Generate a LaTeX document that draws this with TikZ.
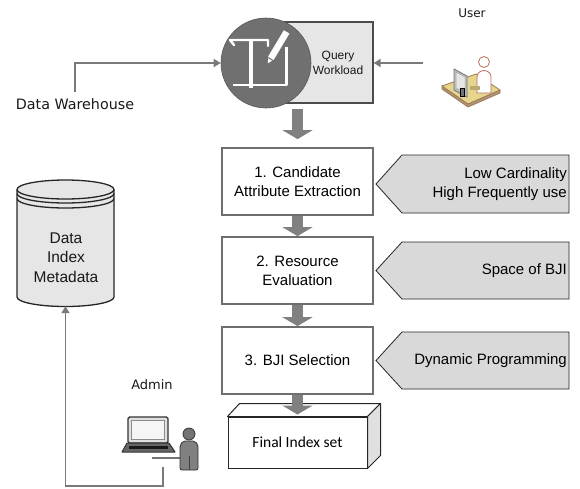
\documentclass[tikz,border=0pt]{standalone}
\usepackage{fontspec}
\setmainfont{Liberation Sans}
\newfontfamily\dvfont{DejaVu Sans}
\newfontfamily\calfont{Carlito}
\usetikzlibrary{arrows.meta,calc}
\definecolor{arrowgray}{HTML}{808080}
\definecolor{linegray}{HTML}{7A7A7A}
\definecolor{boxgray}{HTML}{6E6E6E}
\definecolor{hintgray}{HTML}{D9D9D9}
\definecolor{panelgray}{HTML}{E6E6E6}
\definecolor{discgray}{HTML}{707070}
\definecolor{deskyellow}{HTML}{E6D58C}
\definecolor{deskedge}{HTML}{9C7A55}
\definecolor{skinline}{HTML}{B9705E}
\begin{document}
\begin{tikzpicture}[x=1pt,y=-1pt,
  conn/.style={draw=linegray, line width=1.7pt, -{Triangle[width=8pt,length=7pt]}},
  blockarrow/.style={draw=arrowgray, line width=11pt, -{Triangle[width=30pt,length=9pt]}},
  stepbox/.style={draw=boxgray, line width=1.8pt, fill=white, minimum width=151pt,
    minimum height=67pt, align=center, inner sep=0pt, font=\fontsize{15}{19}\selectfont},
  hint/.style={fill=hintgray, draw=black!85, line width=0.8pt},
  hinttext/.style={anchor=east, align=right, inner sep=0pt, font=\fontsize{15}{19}\selectfont},
  label/.style={inner sep=0pt, text=black!90},
  iconline/.style={white, line width=2.4pt}]
\useasboundingbox (0,0) rectangle (580,488);

% ---- query workload panel with its disc icon ----
\node[draw=black!70, line width=1.2pt, fill=panelgray, minimum width=107pt,
  minimum height=81pt, inner sep=0pt] (qbox) at (319.5,62.5) {};
\node[circle, draw=black!65, line width=0.6pt, fill=discgray, minimum size=90pt,
  inner sep=0pt] (qcirc) at (266,63) {};
\node[label, align=center, font=\fontsize{12}{15}\selectfont] (qtext) at (338,62.5) {Query\\Workload};
% open book and pencil in the disc
\draw[iconline, line cap=round, line join=round]
  (234,45) -- (230,40) -- (268,40) -- (268,46);
\draw[white, line width=3.4pt] (251,40) -- (251,88);
\draw[iconline, line join=round] (233,85) -- (286.5,85) -- (286.5,47);
\filldraw[white] (268,63) -- (268.5,56.4) -- (283.9,30.6) -- (289.1,33.6) -- (273.7,59.4) -- cycle;
\draw[discgray, line width=1pt] (268.3,57.6) -- (273.2,60.6);

% ---- data warehouse source ----
\node[label, font=\dvfont\fontsize{14.3}{17}\selectfont] (dw) at (75,104) {Data Warehouse};
\draw[conn] ([yshift=6pt]dw.north) |- (qcirc.west);

% ---- user ----
\node[label, font=\dvfont\fontsize{12}{14}\selectfont] (user) at (472,13) {User};
\coordinate (userout) at (423,63);
\draw[conn] (userout) -- (qbox.east |- userout);
% user at a desk
\filldraw[fill=deskedge!80, draw=deskedge, line width=0.8pt] (442,86) -- (442,89) -- (468,107) -- (500,93) -- (500,90) -- (468,104) -- cycle;
\filldraw[fill=deskyellow, draw=deskedge, line width=0.8pt, line join=round] (442,86) -- (468,104) -- (500,90) -- (476,74) -- cycle;
\filldraw[fill=black!25, draw=black!55, line width=0.8pt] (454,69) -- (467,76) -- (467,97) -- (454,90) -- cycle;
\filldraw[fill=black!10, draw=black!35, line width=0.5pt] (456,72) -- (465,77) -- (465,93) -- (456,88) -- cycle;
\filldraw[fill=black!55] (460,88) rectangle (464,96);
\filldraw[fill=white, draw=skinline, line width=0.8pt] (477,93) -- (477,77) to[out=90,in=180] (484,70.5) to[out=0,in=90] (491,77) -- (491,93) -- cycle;
\filldraw[fill=white, draw=skinline, line width=0.8pt] (484,62) circle (5.5pt);
\filldraw[fill=deskyellow!80!black, draw=none] (470,86) rectangle (480,90);

% ---- processing steps ----
\node[stepbox] (box1) at (297.5,181.5) {1. Candidate\\Attribute Extraction};
\node[stepbox] (box2) at (297.5,270.5) {2. Resource\\Evaluation};
\node[stepbox] (box3) at (297.5,360.5) {3. BJI Selection};

\draw[blockarrow] ($(box1.north |- qbox.south)+(0,5)$) -- ($(box1.north)+(0,-8)$);
\draw[blockarrow] (box1.south) -- (box2.north);
\draw[blockarrow] (box2.south) -- (box3.north);

% ---- criteria tags ----
\filldraw[hint] (376,184) -- (402,155) -- (569,155) -- (569,213) -- (402,213) -- cycle;
\filldraw[hint] (376,270.5) -- (402,242) -- (569,242) -- (569,299) -- (402,299) -- cycle;
\filldraw[hint] (376,360.5) -- (402,332) -- (569,332) -- (569,389) -- (402,389) -- cycle;
\node[hinttext] (h1) at (567,184) {Low Cardinality\\High Frequently use};
\node[hinttext] (h2) at (567,271) {Space of BJI};
\node[hinttext] (h3) at (567,360.5) {Dynamic Programming};

% ---- final index set (3D block) ----
\node[draw=black!85, line width=1pt, fill=white, minimum width=139pt, minimum height=51pt,
  inner sep=0pt, font=\calfont\fontsize{15.5}{18}\selectfont] (final) at (297.5,442.5) {Final Index set};
\filldraw[fill=white, draw=black!85, line width=1pt, line join=round]
  (final.north west) -- ++(12,-13) -- ($(final.north east)+(13,-13)$) -- (final.north east) -- cycle;
\filldraw[fill=black!12, draw=black!85, line width=1pt, line join=round]
  (final.north east) -- ++(13,-13) -- ++(0,52) -- (final.south east) -- cycle;
\draw[blockarrow] (box3.south) -- ($(box3.south |- final.north)+(0,-2)$);

% ---- metadata store ----
\node[minimum width=97pt, minimum height=127pt, inner sep=0pt] (cyl) at (65.5,242.5) {};
\path[fill=panelgray] (17,189.5) -- (17,297) arc[start angle=180, end angle=360, x radius=48.5pt, y radius=9.5pt] -- (114,189.5) -- cycle;
\draw[black!85, line width=1.3pt] (17,189.5) -- (17,297) arc[start angle=180, end angle=360, x radius=48.5pt, y radius=9.5pt] -- (114,189.5);
\filldraw[fill=panelgray, draw=black!85, line width=1.3pt] (65.5,189.5) ellipse[x radius=48.5pt, y radius=9.5pt];
\draw[black!85, line width=1.3pt] (17,193.5) arc[start angle=180, end angle=360, x radius=48.5pt, y radius=9.5pt];
\draw[black!85, line width=1.3pt] (17,198.5) arc[start angle=180, end angle=360, x radius=48.5pt, y radius=9.5pt];
\node[label, align=center, font=\fontsize{15.5}{19.5}\selectfont] (cyltext) at (66,257.5) {Data\\Index\\Metadata};

% ---- admin ----
\node[label, font=\dvfont\fontsize{13}{15}\selectfont] (admin) at (152,385) {Admin};
\coordinate (adminout) at (163,467);
\draw[conn] (adminout) -- ++(0,19) -| (cyl.south);
% laptop
\filldraw[fill=black!12, draw=black!80, line width=1.4pt, rounded corners=1.5pt] (128,417) rectangle (168,443);
\filldraw[fill=black!4, draw=black!45, line width=0.5pt] (131.5,420.5) rectangle (164.5,439.5);
\filldraw[fill=black!60, draw=black!80, line width=1pt, line join=round] (127,443) -- (169,443) -- (175,452) -- (122,452) -- cycle;
\fill[black!90] (129,446) rectangle (168,449);
% person
\draw[black!55, line width=1.6pt] (152,458) -- (180,458);
\filldraw[fill=black!55, draw=black!80, line width=0.8pt] (189,434) circle (6pt);
\filldraw[fill=black!50, draw=black!80, line width=0.8pt, rounded corners=2pt] (180,470) -- (180,445) -- (183,441) -- (195,441) -- (198,445) -- (198,470) -- cycle;
\draw[black!75, line width=0.8pt] (189,456) -- (189,470);
\end{tikzpicture}
\end{document}
